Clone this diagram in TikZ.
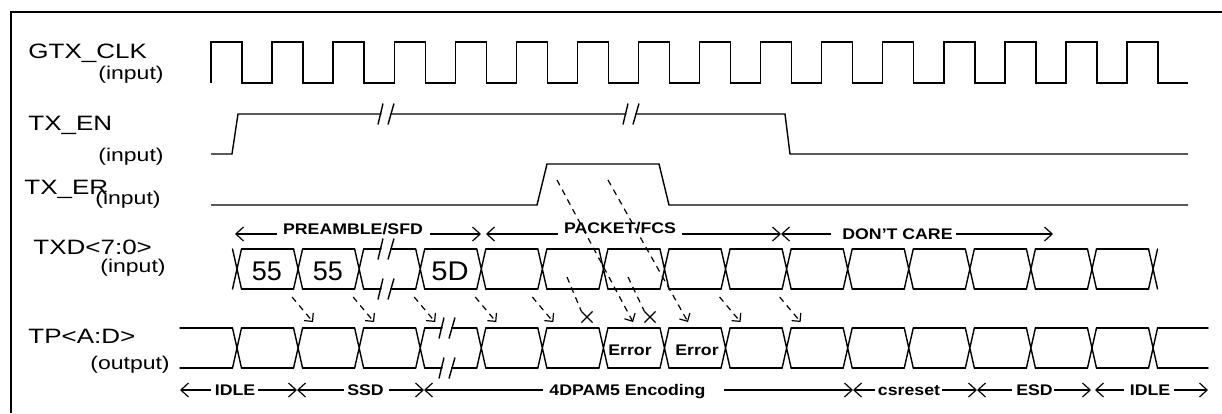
\documentclass[tikz,border=0pt]{standalone}
\usepackage{graphicx}
\usepackage{fontspec}
\setmainfont{Liberation Sans}
\usetikzlibrary{arrows.meta,calc,shapes.misc}
\newcommand\wideL[1]{\scalebox{1.25}[1]{#1}}
\newcommand\wideB[1]{\scalebox{1.15}[1]{#1}}
\tikzset{
  sig/.style={line width=0.7pt, line join=miter},
  bus/.style={line width=0.7pt, line cap=round},
  lbl/.style={inner sep=0pt, anchor=base west, font=\fontsize{10.4pt}{12pt}\selectfont},
  sublbl/.style={inner sep=0pt, anchor=base west, font=\fontsize{9.2pt}{11pt}\selectfont},
  blab/.style={inner sep=0pt, anchor=base, font=\bfseries\fontsize{7.7pt}{9pt}\selectfont},
  cellt/.style={inner sep=0pt, anchor=base, font=\fontsize{13.5pt}{15pt}\selectfont},
  spanl/.style={line width=0.6pt, {Straight Barb[length=3.8pt,width=7pt]}-},
  spanr/.style={line width=0.6pt, -{Straight Barb[length=3.8pt,width=7pt]}},
  maparrow/.style={line width=0.6pt, dash pattern=on 3pt off 2.5pt, -{Straight Barb[length=3pt,width=6pt]}},
  mapline/.style={line width=0.6pt, dash pattern=on 3pt off 2.5pt},
  xm/.style={draw, cross out, line width=0.6pt, minimum size=5pt, inner sep=0pt},
  brk/.pic={
    \fill[white] (-7,10.5) -- (-2,-10.5) -- (7,-10.5) -- (1,10.5) -- cycle;
    \draw[line width=0.7pt] (-8,10.5) -- (-3,-10.5) (2,10.5) -- (8,-10.5);
  }
}
\begin{document}
\begin{tikzpicture}[x=0.5pt,y=-0.5pt]
\useasboundingbox (0,0) rectangle (1222,413);
% frame
\draw[line width=1.1pt, line join=miter] (1222,12) -- (11,12) -- (11,413);

% labels
\node[lbl] (gtx) at (28,58) {\wideL{GTX\_CLK}};
\node[sublbl] (gtxi) at (98,79) {\wideL{(input)}};
\node[lbl] (txen) at (28,130) {\wideL{TX\_EN}};
\node[sublbl] (txeni) at (98,161) {\wideL{(input)}};
\node[lbl] (txer) at (24,194) {\wideL{TX\_ER}};
\node[sublbl] (txeri) at (95,204) {\wideL{(input)}};
\node[lbl] (txd) at (33,254) {\wideL{TXD<7:0>}};
\node[sublbl] (txdi) at (100,272) {\wideL{(input)}};
\node[lbl] (tp) at (28,343) {\wideL{TP<A:D>}};
\node[sublbl] (tpo) at (90,369) {\wideL{(output)}};

% clock
\draw[sig] (211,83) \foreach \k in {0,...,15} {
  -- ({211+61.07*\k},83) -- ({211+61.07*\k},42) -- ({242+61.07*\k},42) -- ({242+61.07*\k},83)
} -- (1188,83);

% TX_EN
\draw[sig] (211,154) -- (232,154) -- (238,114) -- (785,114) -- (790,154) -- (1188,154);
\pic at (386,114) {brk};
\pic at (631,114) {brk};

% TX_ER
\draw[sig] (211,205) -- (537,205) -- (547,164) -- (659,164) -- (669,205) -- (1188,205);

% TXD and TP buses
\foreach \k in {0,...,15} {
  \pgfmathsetmacro\c{237+61.07*\k}
  \draw[bus] ({\c-4.5},249) -- ({\c+4.5},289) ({\c-4.5},289) -- ({\c+4.5},249);
  \draw[bus] ({\c-4.5},328) -- ({\c+4.5},368) ({\c-4.5},368) -- ({\c+4.5},328);
}
\foreach \k in {0,...,14} {
  \pgfmathsetmacro\a{237+61.07*\k+4.5}
  \pgfmathsetmacro\b{237+61.07*(\k+1)-4.5}
  \draw[bus] (\a,249) -- (\b,249) (\a,289) -- (\b,289) (\a,328) -- (\b,328) (\a,368) -- (\b,368);
}
\draw[bus] (180,328) -- (232.5,328) (180,368) -- (232.5,368);
\draw[bus] (1157.5,328) -- (1208,328) (1157.5,368) -- (1208,368);
\pic at (386,249) {brk};
\pic at (386,289) {brk};
\pic at (447,328) {brk};
\pic at (447,368) {brk};

% cell texts
\node[cellt] (c55a) at (267,280) {55};
\node[cellt] (c55b) at (328,280) {55};
\node[cellt] (c5d) at (450,280) {\scalebox{1.08}[1]{5D}};
\node[blab] (err1) at (630,355) {\wideB{Error}};
\node[blab] (err2) at (697,355) {\wideB{Error}};

% short mapping arrows
\foreach \k/\d in {1/15,2/15,3/15,4/15,5/11,8/15,9/14} {
  \coordinate (me\k) at ({237+61.07*\k+\d},322);
  \coordinate (ms\k) at ({237+61.07*\k+\d-21},297);
  \draw[maparrow] (ms\k) -- (me\k);
}
% error mapping
\coordinate (ea) at (557,180);
\coordinate (eb) at (608,180);
\coordinate (fa) at (633,322);
\coordinate (fb) at (688,322);
\draw[maparrow] (ea) -- (fa);
\draw[maparrow] (eb) -- (fb);
\node[xm] (x1) at (587,317) {};
\node[xm] (x2) at (650,317) {};
\coordinate (xs1) at (567,277);
\coordinate (xs2) at (628,277);
\draw[mapline] (xs1) -- (x1.north west);
\draw[mapline] (xs2) -- (x2.north west);

% top annotations
\coordinate (t0) at (235,234);
\coordinate (t1) at (481,234);
\coordinate (t2) at (486,234);
\coordinate (t3) at (781,234);
\coordinate (t4) at (1053,234);
\node[blab] (pre) at (353,234) {\wideB{PREAMBLE/SFD}};
\node[blab] (pkt) at (620,233) {\wideB{PACKET/FCS}};
\node[blab] (dc) at (897.5,239) {\wideB{DON’T CARE}};
\draw[spanl] (t0) -- ($(pre.west |- t0)+(-3pt,0)$);
\draw[spanr] ($(pre.east |- t0)+(3.5pt,0)$) -- (t1);
\draw[spanl] (t2) -- ($(pkt.west |- t2)+(-3pt,0)$);
\draw[spanr] ($(pkt.east |- t2)+(3pt,0)$) -- (t3);
\draw[spanl] (t3) -- ($(dc.west |- t3)+(-5.5pt,0)$);
\draw[spanr] ($(dc.east |- t3)+(1.5pt,0)$) -- (t4);

% bottom annotations
\coordinate (b0) at (180,390);
\coordinate (b1) at (297,390);
\coordinate (b2) at (424,390);
\coordinate (b3) at (853,390);
\coordinate (b4) at (977,390);
\coordinate (b5) at (1091,390);
\coordinate (b5b) at (1095,390);
\coordinate (b6) at (1208,390);
\node[blab] (idle1) at (235,395) {\wideB{IDLE}};
\node[blab] (ssd) at (365.5,395) {\wideB{SSD}};
\node[blab] (enc) at (627.5,395) {\wideB{4DPAM5 Encoding}};
\node[blab] (csr) at (909,395) {\wideB{csreset}};
\node[blab] (esd) at (1034.5,395) {\wideB{ESD}};
\node[blab] (idle2) at (1150,395) {\wideB{IDLE}};
\draw[spanl] (b0) -- ($(idle1.west |- b0)+(-1.5pt,0)$);
\draw[spanr] ($(idle1.east |- b0)+(1pt,0)$) -- (b1);
\draw[spanl] (b1) -- ($(ssd.west |- b1)+(-1.5pt,0)$);
\draw[spanr] ($(ssd.east |- b1)+(2.5pt,0)$) -- (b2);
\draw[spanl] (b2) -- ($(enc.west |- b2)+(-3pt,0)$);
\draw[spanr] ($(enc.east |- b2)+(9pt,0)$) -- (b3);
\draw[spanl] (b3) -- ($(csr.west |- b3)+(-1.5pt,0)$);
\draw[spanr] ($(csr.east |- b3)+(1pt,0)$) -- (b4);
\draw[spanl] (b4) -- ($(esd.west |- b4)+(-2pt,0)$);
\draw[spanr] ($(esd.east |- b4)+(0.5pt,0)$) -- (b5);
\draw[spanl] (b5b) -- ($(idle2.west |- b5b)+(-2.5pt,0)$);
\draw[spanr] ($(idle2.east |- b5b)+(1.5pt,0)$) -- (b6);
\end{tikzpicture}
\end{document}
